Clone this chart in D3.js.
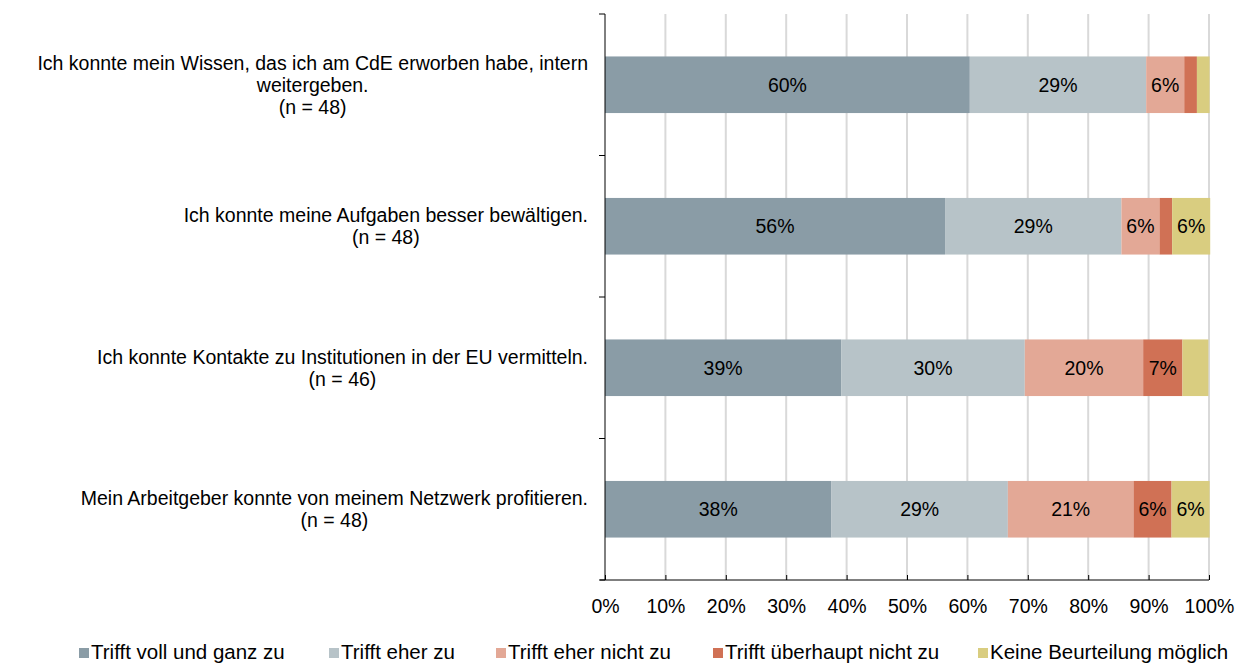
<!DOCTYPE html>
<html lang="de">
<head>
<meta charset="UTF-8">
<title>Gestapeltes Balkendiagramm</title>
<script src="https://d3js.org/d3.v7.min.js"></script>
<style>
  body { margin: 0; background: #fff; }
  text { font-family: "Liberation Sans", Arial, sans-serif; fill: #000; }
</style>
</head>
<body>
<script>
// Kategorien (jede Zeile = eine Textzeile der Beschriftung)
const categories = [
  ["Ich konnte mein Wissen, das ich am CdE erworben habe, intern", "weitergeben.", "(n = 48)"],
  ["Ich konnte meine Aufgaben besser bewältigen.", "(n = 48)"],
  ["Ich konnte Kontakte zu Institutionen in der EU vermitteln.", "(n = 46)"],
  ["Mein Arbeitgeber konnte von meinem Netzwerk profitieren.", "(n = 48)"]
];
const seriesNames = ["Trifft voll und ganz zu", "Trifft eher zu", "Trifft eher nicht zu", "Trifft überhaupt nicht zu", "Keine Beurteilung möglich"];
const seriesColors = ["#8a9ca6", "#b7c3c8", "#e3a896", "#d07155", "#d9cd80"];
// Anteile in Prozent je Serie, Reihenfolge wie categories
const vollUndGanz = [60.4, 56.3, 39.1, 37.5];
const eherZu      = [29.2, 29.2, 30.4, 29.2];
const eherNicht   = [6.3, 6.3, 19.6, 20.8];
const ueberhaupt  = [2.1, 2.1, 6.5, 6.3];
const keine       = [2.1, 6.3, 4.3, 6.3];
const xTicks = [0, 10, 20, 30, 40, 50, 60, 70, 80, 90, 100];

const seriesValues = [vollUndGanz, eherZu, eherNicht, ueberhaupt, keine];

const width = 1236, height = 664;
const plotLeft = 605, plotRight = 1209, plotTop = 14, plotBottom = 580;
const fs = 19.5;

const svg = d3.select("body").append("svg")
  .attr("width", width).attr("height", height);

const x = d3.scaleLinear().domain([0, 100]).range([plotLeft, plotRight]);
const y = d3.scaleBand().domain(d3.range(categories.length)).range([plotTop, plotBottom]).paddingInner(0.6).paddingOuter(0.3);
const yOuter = d3.scaleBand().domain(d3.range(categories.length)).range([plotTop, plotBottom]);

// Gitternetzlinien
svg.append("g").selectAll("line").data(xTicks.slice(1)).enter().append("line")
  .attr("x1", d => x(d)).attr("x2", d => x(d))
  .attr("y1", plotTop).attr("y2", plotBottom)
  .attr("stroke", "#d9d9d9").attr("stroke-width", 2);

// Balken stapeln
const rows = categories.map((c, i) => {
  let acc = 0;
  return seriesValues.map((s, k) => {
    const seg = { k: k, row: i, x0: acc, x1: acc + s[i], v: s[i] };
    acc += s[i];
    return seg;
  });
});

const segs = svg.append("g").selectAll("g").data(rows).enter().append("g");
segs.selectAll("rect").data(d => d).enter().append("rect")
  .attr("x", d => x(d.x0))
  .attr("width", d => x(d.x1) - x(d.x0))
  .attr("y", d => y(d.row))
  .attr("height", y.bandwidth())
  .attr("fill", d => seriesColors[d.k]);

segs.selectAll("text").data(d => d.filter(s => s.v >= 5)).enter().append("text")
  .attr("x", d => (x(d.x0) + x(d.x1)) / 2)
  .attr("y", d => y(d.row) + y.bandwidth() / 2)
  .attr("dy", "0.35em")
  .attr("text-anchor", "middle")
  .attr("font-size", fs)
  .text(d => Math.round(d.v) + "%");

// x-Achse
const xAxis = svg.append("g")
  .attr("transform", "translate(0," + plotBottom + ")")
  .call(d3.axisBottom(x).tickValues(xTicks).tickSize(5).tickFormat(d => d + "%"));
xAxis.select(".domain").attr("d", "M" + (plotLeft - 5) + ",0H" + plotRight).attr("stroke", "#000");
xAxis.selectAll(".tick line").attr("y1", -5).attr("y2", 0).attr("stroke", "#000");
xAxis.selectAll(".tick text").attr("font-size", fs).attr("y", 26).attr("dy", "0.35em")
  .style("font-family", "'Liberation Sans', Arial, sans-serif").style("fill", "#000");

// y-Achse mit Ticks zwischen den Kategorien
svg.append("line").attr("x1", plotLeft).attr("x2", plotLeft).attr("y1", plotTop).attr("y2", plotBottom).attr("stroke", "#000");
const yTickPos = d3.range(categories.length).map(i => yOuter(i)).concat([plotBottom]);
svg.append("g").selectAll("line").data(yTickPos).enter().append("line")
  .attr("x1", plotLeft - 6).attr("x2", plotLeft)
  .attr("y1", d => d).attr("y2", d => d)
  .attr("stroke", "#000");

// Kategoriebeschriftung: Block zentriert, rechts bei 588 ausgerichtet
const lineH = 22;
categories.forEach((lines, i) => {
  const g = svg.append("g");
  const cy = y(i) + y.bandwidth() / 2;
  const startY = cy - (lines.length - 1) * lineH / 2;
  const t = g.selectAll("text").data(lines).enter().append("text")
    .attr("text-anchor", "middle")
    .attr("font-size", fs)
    .attr("y", (d, j) => startY + j * lineH)
    .attr("dy", "0.35em")
    .text(d => d);
  let maxW = 0;
  t.each(function () { maxW = Math.max(maxW, this.getComputedTextLength()); });
  t.attr("x", 588 - maxW / 2);
});

// Legende
const legendX = [79, 329, 496, 713, 978];
const lg = svg.append("g").selectAll("g").data(seriesNames).enter().append("g")
  .attr("transform", (d, i) => "translate(" + legendX[i] + ",652)");
lg.append("rect").attr("x", 0).attr("y", -4).attr("width", 10).attr("height", 10)
  .attr("fill", (d, i) => seriesColors[i]);
lg.append("text").attr("x", 12).attr("dy", "0.35em").attr("font-size", 20.5).text(d => d);
</script>
</body>
</html>
